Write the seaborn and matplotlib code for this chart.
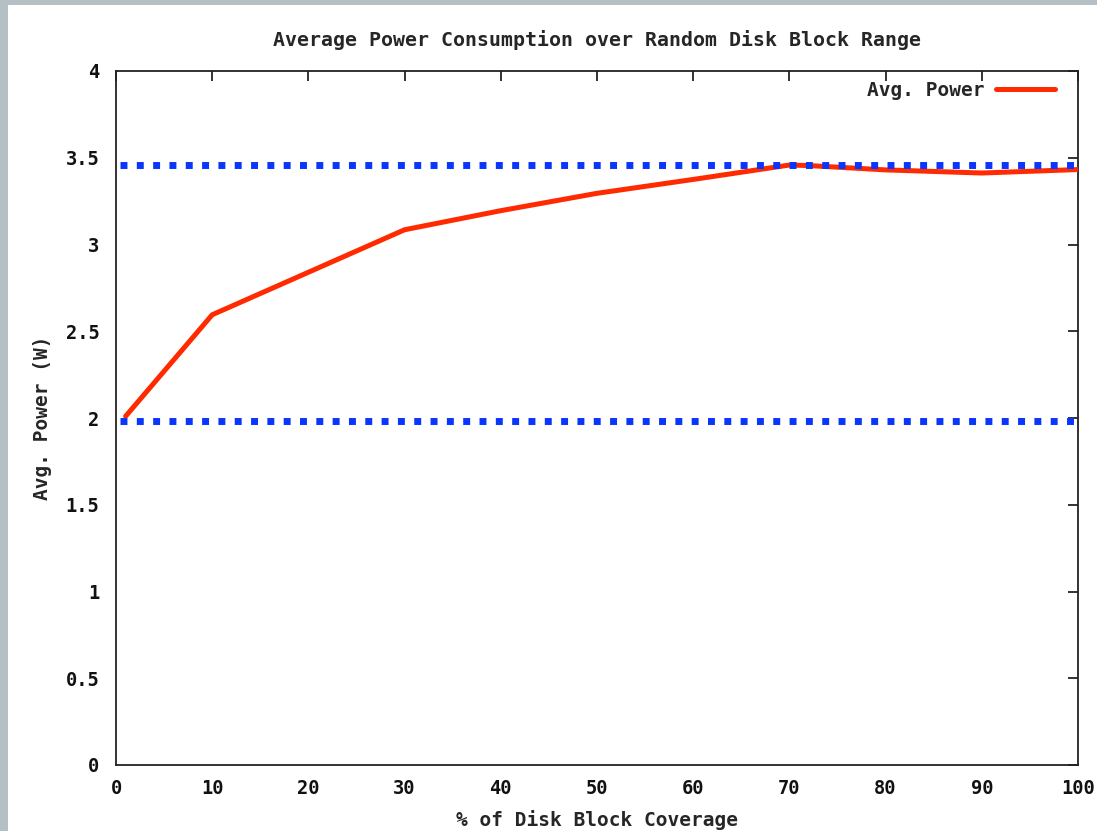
import matplotlib
matplotlib.use("Agg")
import matplotlib.pyplot as plt
import seaborn as sns
import pandas as pd
from matplotlib.patches import Rectangle

# Data
coverage = [1, 10, 20, 30, 40, 50, 60, 70, 72, 80, 90, 100]
avg_power = [2.01, 2.595, 2.84, 3.085, 3.195, 3.295, 3.375, 3.458, 3.455, 3.43, 3.412, 3.432]
ref_levels = [1.983, 3.458]
x_ticks = [0, 10, 20, 30, 40, 50, 60, 70, 80, 90, 100]
y_ticks = [0, 0.5, 1, 1.5, 2, 2.5, 3, 3.5, 4]

sns.set_theme(style="white")
plt.rcParams['font.family'] = ['DejaVu Sans Mono']
plt.rcParams['font.weight'] = 'bold'

W, H = 1097, 831
fig = plt.figure(figsize=(W / 100, H / 100), dpi=100)
fig.patch.set_facecolor('#b4c0c3')
fig.add_artist(Rectangle((8 / W, 0), 1 - 8 / W, 1 - 5 / H, transform=fig.transFigure,
                         facecolor='white', edgecolor='none', zorder=0))

ax = fig.add_axes([116 / W, 1 - 765 / H, (1078 - 116) / W, (765 - 71) / H])
ax.set_facecolor('white')

red = '#ff2a00'
blue = '#0a35ff'

for lvl in ref_levels:
    ax.axhline(lvl, color=blue, lw=5.0, dashes=(1, 1.35), dash_capstyle='butt',
               xmin=0.004, xmax=1.0, zorder=4)

df = pd.DataFrame({'coverage': coverage, 'power': avg_power})
sns.lineplot(data=df, x='coverage', y='power', ax=ax, color=red, lw=3.6,
             label='Avg. Power', zorder=3)

ax.set_xlim(0, 100)
ax.set_ylim(0, 4)
ax.set_xticks(x_ticks)
ax.set_yticks(y_ticks)
ax.set_xticklabels([str(t) for t in x_ticks])
ax.set_yticklabels(['0', '0.5', '1', '1.5', '2', '2.5', '3', '3.5', '4'])
ax.tick_params(direction='in', length=7, width=1.2, top=True, right=True,
               labelsize=13.5, colors='#111111', pad=12)
ax.tick_params(axis='x', pad=10)
for lab in ax.get_xticklabels() + ax.get_yticklabels():
    lab.set_fontweight('bold')
for sp in ax.spines.values():
    sp.set_color('#222222')
    sp.set_linewidth(1.3)

ax.set_xlabel('% of Disk Block Coverage', fontsize=14, fontweight='bold', labelpad=9)
ax.set_ylabel('Avg. Power (W)', fontsize=14, fontweight='bold', labelpad=10)
ax.set_title('Average Power Consumption over Random Disk Block Range',
             fontsize=14.3, fontweight='bold', pad=18)

leg = ax.legend(loc='upper right', frameon=False, fontsize=14, handlelength=3.0,
                borderaxespad=0.3, handletextpad=0.6, markerfirst=False,
                bbox_to_anchor=(0.99, 1.005))
for t in leg.get_texts():
    t.set_fontweight('bold')

fig.savefig('out.png', dpi=100, facecolor=fig.get_facecolor())
